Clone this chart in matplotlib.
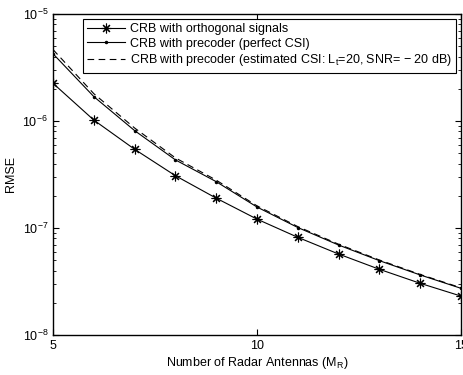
import matplotlib
matplotlib.use('Agg')
import matplotlib.pyplot as plt

plt.rcParams['font.family'] = ['Liberation Sans', 'DejaVu Sans']
plt.rcParams['mathtext.fontset'] = 'custom'
plt.rcParams['mathtext.rm'] = 'Liberation Sans'
plt.rcParams['mathtext.it'] = 'Liberation Sans'

antennas = [5, 6, 7, 8, 9, 10, 11, 12, 13, 14, 15]
crb_orth = [2.25e-6, 1.02e-6, 5.44e-7, 3.08e-7, 1.90e-7, 1.21e-7,
            8.18e-8, 5.71e-8, 4.11e-8, 3.04e-8, 2.31e-8]
crb_perfect = [4.25e-6, 1.69e-6, 8.13e-7, 4.33e-7, 2.71e-7, 1.57e-7,
               1.01e-7, 6.93e-8, 4.95e-8, 3.64e-8, 2.73e-8]
crb_est = [4.65e-6, 1.80e-6, 8.60e-7, 4.52e-7, 2.80e-7, 1.61e-7,
           1.03e-7, 7.05e-8, 5.02e-8, 3.68e-8, 2.76e-8]

fig = plt.figure(figsize=(4.63, 3.75), dpi=100)
ax = fig.add_axes([0.1145, 0.1067, 0.8812, 0.856])

ax.semilogy(antennas, crb_orth, 'k-', marker=(8, 2, 0), markersize=7,
            markeredgewidth=0.8, lw=0.8, label='CRB with orthogonal signals')
ax.semilogy(antennas, crb_perfect, 'k-', marker='.', markersize=3, lw=0.8,
            label='CRB with precoder (perfect CSI)')
ax.semilogy(antennas, crb_est, 'k--', lw=0.8, dashes=(6, 4),
            label='CRB with precoder (estimated CSI: $\\mathregular{L_t}$=20, SNR= \u2212 20 dB)')

ax.set_xlim(5, 15)
ax.set_ylim(1e-8, 1e-5)
ax.set_xticks([5, 10, 15])
ax.tick_params(which='both', direction='in', top=True, right=True, labelsize=9)
ax.tick_params(which='major', length=4)
ax.tick_params(which='minor', length=2)
for s in ax.spines.values():
    s.set_linewidth(1.0)

ax.set_xlabel('Number of Radar Antennas ($\\mathregular{M_R}$)', fontsize=9, labelpad=2)
ax.set_ylabel('RMSE', fontsize=9, labelpad=4)

leg = ax.legend(loc='upper right', fontsize=9, frameon=True, fancybox=False,
                edgecolor='black', framealpha=1, borderaxespad=0.4,
                handlelength=3.0, handletextpad=0.4, borderpad=0.35,
                labelspacing=0.2)
leg.get_frame().set_linewidth(0.8)

fig.savefig('out.png', dpi=100)
